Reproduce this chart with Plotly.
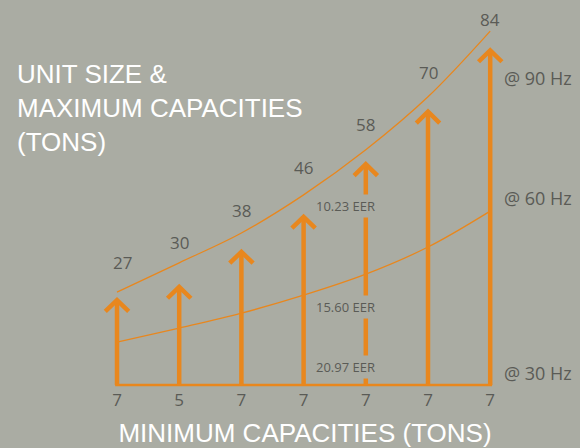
import plotly.graph_objects as go

# ---- data ----
max_capacities = [27, 30, 38, 46, 58, 70, 84]
min_capacities = [7, 5, 7, 7, 7, 7, 7]
curve_90hz = [28.2, 34.9, 41.7, 50.4, 60.7, 72.8, 87.8]
curve_60hz = [16.8, 20.0, 23.4, 27.5, 32.3, 38.5, 46.7]
baseline_value = 7
eer_labels = ["10.23 EER", "15.60 EER", "20.97 EER"]
hz_labels = ["@ 90 Hz", "@ 60 Hz", "@ 30 Hz"]
dashed_index = 4

# ---- style ----
W, H = 580, 448
BG = "#AAACA3"
ORANGE = "#E8871E"
TXT = "#5A5B56"
ML, MR, MT, MB = 30, 0, 0, 60
PX_PER_X = 62.2
PX_PER_TON = 4.38
X0_PIX = 117
BASE_PIX = 385

plot_w = W - ML - MR
plot_h = H - MT - MB
xmin = -(X0_PIX - ML) / PX_PER_X
xmax = xmin + plot_w / PX_PER_X
ymax = baseline_value + (BASE_PIX - MT) / PX_PER_TON
ymin = ymax - plot_h / PX_PER_TON


def py(p):
    return (H - MB - p) / plot_h


def pxp(p):
    return (p - ML) / plot_w


xs = list(range(len(max_capacities)))
dx = 11.7 / PX_PER_X
dy = 14.0 / PX_PER_TON

fig = go.Figure()

# curves
fig.add_trace(go.Scatter(x=xs, y=curve_90hz, mode="lines", line=dict(color=ORANGE, width=1.3, shape="spline"), hoverinfo="skip"))
fig.add_trace(go.Scatter(x=xs, y=curve_60hz, mode="lines", line=dict(color=ORANGE, width=1.3, shape="spline"), hoverinfo="skip"))

# baseline
fig.add_trace(go.Scatter(x=[xs[0] - 0.03, xs[-1] + 0.03], y=[baseline_value, baseline_value], mode="lines",
                         line=dict(color=ORANGE, width=2.5), hoverinfo="skip"))

# shafts and chevron heads
sx, sy, hx, hy = [], [], [], []
for i, v in zip(xs, max_capacities):
    sx += [i, i, None]
    sy += [baseline_value, v - 0.6, None]
    hx += [i - dx, i, i + dx, None]
    hy += [v - dy, v - 0.6, v - dy, None]
fig.add_trace(go.Scatter(x=sx, y=sy, mode="lines", line=dict(color=ORANGE, width=4.5), hoverinfo="skip"))
fig.add_trace(go.Scatter(x=hx, y=hy, mode="lines", line=dict(color=ORANGE, width=4.5), hoverinfo="skip"))

annotations = []
label_xshift = [5, 0, 0, 0, 0, 0, 0]
label_yshift = [35, 42, 39, 47, 37, 37, 28]
for i, v in enumerate(max_capacities):
    annotations.append(dict(x=i, y=v, xref="x", yref="y", text=str(v), showarrow=False,
                            yshift=label_yshift[i], xshift=label_xshift[i], yanchor="middle",
                            font=dict(family="Open Sans", size=17, color=TXT)))

# EER labels on dashed arrow
eer_y = [206, 307, 367]
for t, yy in zip(eer_labels, eer_y):
    annotations.append(dict(x=dashed_index, y=py(yy), xref="x", yref="paper", text=t, showarrow=False,
                            xshift=-20, yanchor="middle", bgcolor=BG, borderpad=2,
                            font=dict(family="Open Sans", size=13, color=TXT)))

# Hz labels
hz_y = [78, 198, 373]
for t, yy in zip(hz_labels, hz_y):
    annotations.append(dict(x=pxp(502), y=py(yy), xref="paper", yref="paper", text=t, showarrow=False,
                            xanchor="left", yanchor="middle",
                            font=dict(family="Open Sans", size=18, color=TXT)))

# left title
annotations.append(dict(x=pxp(15), y=py(108), xref="paper", yref="paper",
                        text="UNIT SIZE &<br>MAXIMUM CAPACITIES<br>(TONS)", showarrow=False,
                        xanchor="left", yanchor="middle", align="left",
                        font=dict(family="Liberation Sans", size=26, color="white")))

fig.update_layout(
    width=W, height=H,
    margin=dict(l=ML, r=MR, t=MT, b=MB),
    paper_bgcolor=BG, plot_bgcolor=BG,
    showlegend=False,
    annotations=annotations,
    xaxis=dict(range=[xmin, xmax], tickvals=xs, ticktext=[str(m) for m in min_capacities],
               showgrid=False, zeroline=False, showline=False, ticks="",
               tickfont=dict(family="Open Sans", size=17, color=TXT),
               title=dict(text="MINIMUM CAPACITIES (TONS)", standoff=17,
                          font=dict(family="Liberation Sans", size=26, color="white")),
               fixedrange=True),
    yaxis=dict(range=[ymin, ymax], showgrid=False, zeroline=False, showline=False,
               showticklabels=False, ticks="", fixedrange=True),
)

fig.write_html("out.html")
